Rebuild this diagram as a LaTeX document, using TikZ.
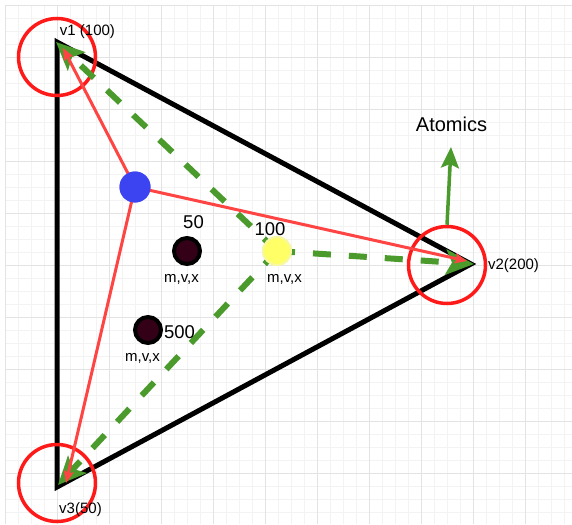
\documentclass[tikz,border=0pt]{standalone}
\usepackage{fontspec}
\setmainfont{Liberation Sans}
\usetikzlibrary{arrows.meta}

\definecolor{gridminor}{HTML}{F3F3F3}
\definecolor{gridmajor}{HTML}{E3E3E3}
\definecolor{ringred}{HTML}{FF1A1A}
\definecolor{linkred}{HTML}{FF4444}
\definecolor{flowgreen}{HTML}{4A9A2C}
\definecolor{dotblue}{HTML}{3B44F0}
\definecolor{dotyellow}{HTML}{FFFF66}
\definecolor{dotyellowrim}{HTML}{F8F8A0}
\definecolor{dotdark}{HTML}{330018}

\tikzset{
  minorline/.style={draw=gridminor, line width=0.8pt},
  majorline/.style={draw=gridmajor, line width=0.9pt},
  edge/.style={draw=black, line width=5pt, line join=miter},
  ring/.style={circle, draw=ringred, line width=3.5pt, minimum size=77pt, inner sep=0pt},
  link/.style={draw=linkred, line width=3pt, -{Stealth[length=12pt,width=10pt,inset=2pt]}},
  flow/.style={draw=flowgreen, line width=6pt, dash pattern=on 18pt off 18pt,
    -{Stealth[length=28pt,width=25pt,inset=6pt]}},
  rise/.style={draw=flowgreen, line width=3.5pt, -{Stealth[length=21pt,width=18pt,inset=4pt]}},
  source/.style={circle, fill=dotblue, minimum size=31pt, inner sep=0pt},
  probe/.style={circle, fill=dotyellow, draw=dotyellowrim, line width=2pt, minimum size=28pt, inner sep=0pt},
  mass/.style={circle, fill=dotdark, draw=black, line width=4pt, minimum size=26pt, inner sep=0pt},
  small/.style={inner sep=0pt, anchor=base, font=\fontsize{15}{18}\selectfont},
  num/.style={inner sep=0pt, anchor=base, font=\fontsize{18.5}{22}\selectfont},
  big/.style={inner sep=0pt, anchor=base, font=\fontsize{20}{24}\selectfont},
}

\begin{document}
\begin{tikzpicture}[x=1pt,y=-1pt]
  \useasboundingbox (0,0) rectangle (572,524);
  \fill[white] (0,0) rectangle (572,524);

  % background grid: fine lines every 13, heavier every 52
  \foreach \i in {0,...,43} {\draw[minorline] ({5+13*\i},5) -- ({5+13*\i},524);}
  \foreach \i in {0,...,39} {\draw[minorline] (5,{5+13*\i}) -- (572,{5+13*\i});}
  \foreach \i in {0,...,10} {\draw[majorline] ({5+52*\i},5) -- ({5+52*\i},524);}
  \foreach \i in {0,...,9} {\draw[majorline] (5,{5+52*\i}) -- (572,{5+52*\i});}

  % triangle corners
  \coordinate (v1) at (57,42);
  \coordinate (v2) at (471,264);
  \coordinate (v3) at (57,487);

  % arrow end points near the corners
  \coordinate (r1) at (63,48);
  \coordinate (r2) at (467,261);
  \coordinate (r3) at (66,483);
  \coordinate (g1) at (56,42);
  \coordinate (g2) at (474,264);
  \coordinate (g3) at (58,485);
  \coordinate (up) at (451,147);

  % triangle
  \draw[edge] (v1) -- (v2) -- (v3) -- cycle;

  % rings around the corners
  \node[ring] (ring1) at (57,57) {};
  \node[ring] (ring2) at (447,265) {};
  \node[ring] (ring3) at (57,483) {};

  % dots
  \node[source] (src) at (135,187) {};
  \node[probe] (probe) at (277,251) {};
  \node[mass] (m50) at (187,251) {};
  \node[mass] (m500) at (148,330) {};

  % green dashed flows from the yellow probe
  \draw[flow] (probe.center) -- (g1);
  \draw[flow] (probe.center) -- (g2);
  \draw[flow] (probe.center) -- (g3);

  % red links from the blue source
  \draw[link] (src.center) -- (r1);
  \draw[link] (src.center) -- (r2);
  \draw[link] (src.center) -- (r3);

  % atomics arrow
  \draw[rise] (ring2.north) -- (up);

  % dots on top of the links
  \node[source] at (src) {};
  \node[probe] at (probe) {};

  % labels
  \node[small] (l1) at (87.5,36) {v1 (100)};
  \node[small] (l2) at (513.5,269.5) {v2(200)};
  \node[small] (l3) at (80.5,513) {v3(50)};
  \node[big] (latom) at (451.5,131.5) {Atomics};
  \node[num] (n50) at (193.5,228) {50};
  \node[num] (n100) at (270,235) {100};
  \node[num] (n500) at (179.5,338) {500};
  \node[small] (p50) at (181.5,282) {m,v,x};
  \node[small] (p100) at (284.5,282) {m,v,x};
  \node[small] (p500) at (142.5,361) {m,v,x};
\end{tikzpicture}
\end{document}
